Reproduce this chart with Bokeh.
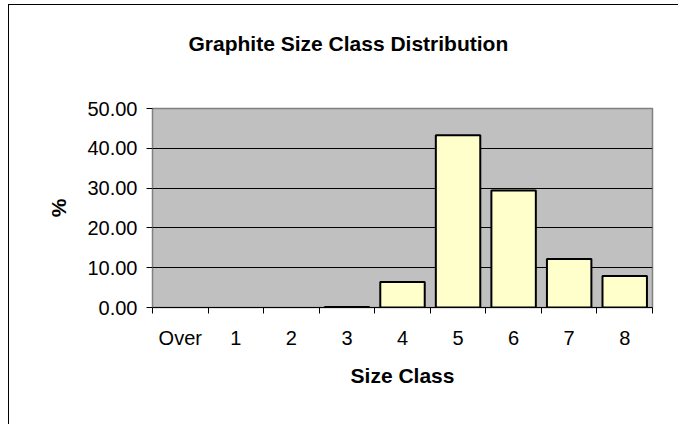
from bokeh.plotting import figure
from bokeh.models import FixedTicker, NumeralTickFormatter, Title
from bokeh.embed import file_html
from bokeh.resources import INLINE

# Data
categories = ["Over", "1", "2", "3", "4", "5", "6", "7", "8"]
percent = [0.0, 0.0, 0.0, 0.1, 6.4, 43.3, 29.4, 12.2, 7.9]
y_ticks = [0, 10, 20, 30, 40, 50]

FONT = "Liberation Sans"

centers = [i + 0.5 for i in range(len(categories))]
bounds = list(range(len(categories) + 1))
outline = ["black" if v > 0 else None for v in percent]

p = figure(
    x_range=(0, len(categories)), y_range=(0, 50),
    frame_width=500, frame_height=199,
    min_border_left=143, min_border_right=26,
    min_border_top=103, min_border_bottom=117,
    output_backend="svg", toolbar_location=None,
    background_fill_color="#C0C0C0", border_fill_color="white",
    title_location=None,
)
p.styles = {"border-left": "1px solid black", "border-top": "1px solid black",
            "margin-top": "4px", "margin-left": "8px"}

# spacer between plot frame and title, then the title itself
p.add_layout(Title(text=" ", text_font_size="1px", standoff=46), "above")
p.add_layout(Title(text="Graphite Size Class Distribution", align="left", offset=36,
                   text_font=FONT, text_font_size="21px", text_font_style="bold",
                   text_color="black", standoff=10), "above")

p.vbar(x=centers, top=percent, width=0.8, bottom=0,
       fill_color="#FFFFCC", line_color=outline, line_width=2)

p.outline_line_color = "#808080"
p.outline_line_width = 1.5

# X axis
p.xaxis.ticker = FixedTicker(ticks=centers, minor_ticks=bounds)
p.xaxis.major_label_overrides = {c: lab for c, lab in zip(centers, categories)}
p.xaxis.major_tick_out = 0
p.xaxis.major_tick_in = 0
p.xaxis.minor_tick_out = 6
p.xaxis.minor_tick_in = 0
p.xaxis.minor_tick_line_color = "black"
p.xaxis.axis_line_color = "black"
p.xaxis.major_label_text_font = FONT
p.xaxis.major_label_text_font_size = "20px"
p.xaxis.major_label_text_color = "black"
p.xaxis.major_label_standoff = 13
p.xaxis.axis_label = "Size Class"
p.xaxis.axis_label_text_font = FONT
p.xaxis.axis_label_text_font_size = "21px"
p.xaxis.axis_label_text_font_style = "bold"
p.xaxis.axis_label_text_color = "black"
p.xaxis.axis_label_standoff = 12

# Y axis
p.yaxis.ticker = FixedTicker(ticks=y_ticks, minor_ticks=[])
p.yaxis.formatter = NumeralTickFormatter(format="0.00")
p.yaxis.major_tick_out = 6
p.yaxis.major_tick_in = 0
p.yaxis.axis_line_color = "#808080"
p.yaxis.major_label_text_font = FONT
p.yaxis.major_label_text_font_size = "20px"
p.yaxis.major_label_text_color = "black"
p.yaxis.major_label_standoff = 9
p.yaxis.axis_label = "%"
p.yaxis.axis_label_text_font = FONT
p.yaxis.axis_label_text_font_size = "21px"
p.yaxis.axis_label_text_font_style = "bold"
p.yaxis.axis_label_text_color = "black"
p.yaxis.axis_label_standoff = 14

p.xgrid.visible = False
p.ygrid.ticker = FixedTicker(ticks=y_ticks[1:-1])
p.ygrid.grid_line_color = "black"
p.ygrid.grid_line_width = 1

open("out.html", "w").write(file_html(p, INLINE))
